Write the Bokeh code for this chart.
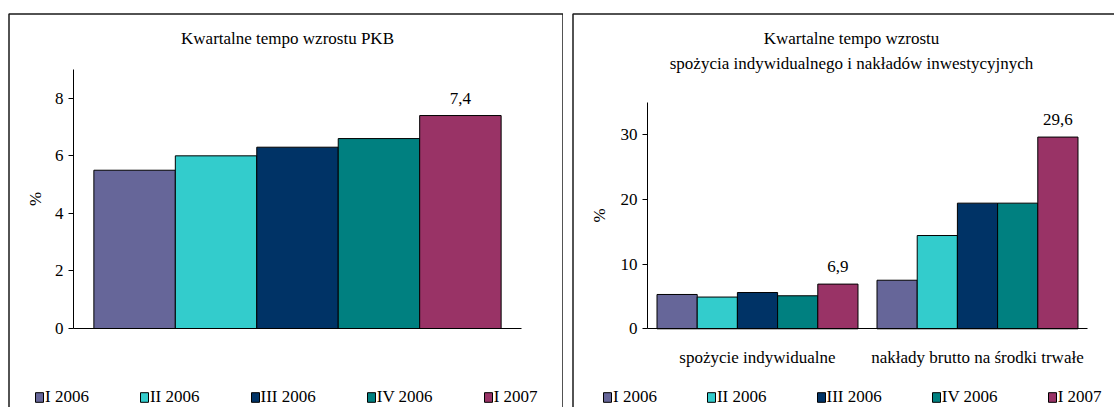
from bokeh.plotting import figure
from bokeh.layouts import row
from bokeh.models import (Range1d, FixedTicker, Legend, LegendItem, Label,
                          LabelSet, ColumnDataSource, BoxAnnotation)
from bokeh.transform import dodge
from bokeh.embed import file_html
from bokeh.resources import INLINE

# ---------------- data ----------------
series = ["I 2006", "II 2006", "III 2006", "IV 2006", "I 2007"]
colors = ["#666699", "#33CCCC", "#003366", "#008080", "#993366"]
gdp = [5.5, 6.0, 6.3, 6.6, 7.4]
categories = ["spożycie indywidualne", "nakłady brutto na środki trwałe"]
consumption = [5.3, 4.9, 5.6, 5.1, 6.9]
investment = [7.5, 14.4, 19.4, 19.4, 29.6]
left_ticks = [0, 2, 4, 6, 8]
right_ticks = [0, 10, 20, 30]
left_ymax = 9
right_ymax = 35
title_left = "Kwartalne tempo wzrostu PKB"
title_right_1 = "Kwartalne tempo wzrostu"
title_right_2 = "spożycia indywidualnego i nakładów inwestycyjnych"

FONT = "Liberation Serif"
FS = "17px"
LFS = "17px"
BORDER = "#1a1a1a"

# ---------------- page geometry (px on the page; Bokeh's page has no margin) ----------------
TOP, H = 0, 407
P1_L, P1_W = 0, 563
P2_L, P2_W = 563, 551


def fmt(v):
    return f"{v:.1f}".replace(".", ",")


def base_fig(w, xr, yr):
    p = figure(width=w, height=H, x_range=xr, y_range=yr, title=None,
               output_backend="svg", toolbar_location=None, min_border=0)
    p.xgrid.visible = False
    p.ygrid.visible = False
    p.outline_line_color = None
    p.background_fill_color = "white"
    p.border_fill_color = "white"
    for ax in p.yaxis:
        ax.major_tick_in = 0
        ax.major_tick_out = 5
        ax.minor_tick_line_color = None
        ax.major_label_text_font = FONT
        ax.major_label_text_font_size = FS
        ax.major_label_text_color = "black"
        ax.axis_line_color = "black"
        ax.major_tick_line_color = "black"
        ax.axis_label = "%"
        ax.axis_label_text_font = FONT
        ax.axis_label_text_font_size = FS
        ax.axis_label_text_font_style = "normal"
        ax.axis_label_text_color = "black"
    for ax in p.xaxis:
        ax.major_tick_line_color = None
        ax.minor_tick_line_color = None
        ax.axis_line_color = "black"
        ax.major_label_text_font = FONT
        ax.major_label_text_font_size = FS
        ax.major_label_text_color = "black"
    return p


def text_label(x, y, text):
    return Label(x=x, y=y, text=text, text_align="center", text_baseline="middle",
                 text_font=FONT, text_font_size=FS, text_color="black")


def make_legend(renderers, use_index, loc, spacing):
    items = []
    for i, s in enumerate(series):
        if use_index:
            items.append(LegendItem(label=s, renderers=[renderers[0]], index=i))
        else:
            items.append(LegendItem(label=s, renderers=[renderers[i]]))
    return Legend(items=items, orientation="horizontal", location=loc, spacing=spacing,
                  padding=0, margin=0, label_standoff=1, glyph_width=10, glyph_height=12,
                  border_line_color=None, background_fill_alpha=0,
                  label_text_font=FONT, label_text_font_size=LFS, label_text_color="black")


def panel_border(left, right, top, bottom):
    return BoxAnnotation(left=left, right=right, top=top, bottom=bottom,
                         fill_alpha=0, line_color=BORDER, line_alpha=1.0, line_width=1.5)


# ---------------- left panel ----------------
ax1, end1, y0_1, ytop1 = 73, 521, 328, 69
pad1 = 0.25
xs1, xe1 = -0.5 - pad1, len(gdp) - 0.5 + pad1
u1 = (end1 - ax1) / (xe1 - xs1)
s1 = (y0_1 - ytop1) / left_ymax


def X1(px):
    return xs1 + (px - ax1) / u1


def Y1(py):
    return (y0_1 - py) / s1


p1 = base_fig(P1_W, Range1d(X1(P1_L), X1(P1_L + P1_W)), Range1d(Y1(TOP + H), Y1(TOP)))
p1.yaxis.fixed_location = xs1
p1.yaxis.bounds = (0, left_ymax)
p1.yaxis.ticker = FixedTicker(ticks=left_ticks)
p1.yaxis.axis_label_standoff = 7
p1.xaxis.fixed_location = 0
p1.xaxis.bounds = (xs1, xe1)
p1.xaxis.ticker = FixedTicker(ticks=[])

src1 = ColumnDataSource(dict(x=list(range(len(series))), top=gdp, color=colors, series=series,
                             lab=[fmt(v) if i == len(gdp) - 1 else "" for i, v in enumerate(gdp)]))
r1 = p1.vbar(x="x", top="top", width=1, fill_color="color", line_color="black",
             line_width=1, source=src1)
p1.add_layout(LabelSet(x="x", y="top", text="lab", source=src1, y_offset=17,
                       text_align="center", text_baseline="middle",
                       text_font=FONT, text_font_size=FS, text_color="black"))
p1.add_layout(text_label(X1(287), Y1(38), title_left))
p1.add_layout(make_legend([r1], True, (34, 0), 50))
p1.add_layout(panel_border(X1(8.5), X1(562.5), Y1(13.5), Y1(600)))

# ---------------- right panel ----------------
ax2, end2, y0_2, ytop2 = 647, 1087, 328.3, 101.6
u2 = (end2 - ax2) / len(categories)
s2 = (y0_2 - ytop2) / right_ymax


def X2(px):
    return (px - ax2) / u2


def Y2(py):
    return (y0_2 - py) / s2


p2 = base_fig(P2_W, Range1d(X2(P2_L), X2(P2_L + P2_W)), Range1d(Y2(TOP + H), Y2(TOP)))
p2.yaxis.fixed_location = 0
p2.yaxis.bounds = (0, right_ymax)
p2.yaxis.ticker = FixedTicker(ticks=right_ticks)
p2.yaxis.axis_label_standoff = 9
cat_x = [i + 0.5 for i in range(len(categories))]
p2.xaxis.fixed_location = 0
p2.xaxis.bounds = (0, len(categories))
p2.xaxis.ticker = FixedTicker(ticks=cat_x)
p2.xaxis.major_label_overrides = {cx: c for cx, c in zip(cat_x, categories)}
p2.xaxis.major_label_standoff = 13

BW = 0.1827
data2 = dict(xc=cat_x)
for i in range(len(series)):
    data2[f"s{i}"] = [consumption[i], investment[i]]
data2["lab"] = [fmt(consumption[-1]), fmt(investment[-1])]
src2 = ColumnDataSource(data2)
rends = []
for i in range(len(series)):
    r = p2.vbar(x=dodge("xc", (i - 2) * BW), top=f"s{i}", width=BW,
                fill_color=colors[i], line_color="black", line_width=1, source=src2)
    rends.append(r)
p2.add_layout(LabelSet(x=dodge("xc", 2 * BW), y="s4", text="lab", source=src2,
                       y_offset=18, text_align="center", text_baseline="middle",
                       text_font=FONT, text_font_size=FS, text_color="black"))
p2.add_layout(text_label(X2(851), Y2(38), title_right_1))
p2.add_layout(text_label(X2(851), Y2(63), title_right_2))
p2.add_layout(make_legend(rends, False, (602 - P2_L, 0), 49))
p2.add_layout(panel_border(X2(572.5), X2(1400), Y2(13.5), Y2(600)))

layout = row(p1, p2)
open("out.html", "w").write(file_html(layout, INLINE))
